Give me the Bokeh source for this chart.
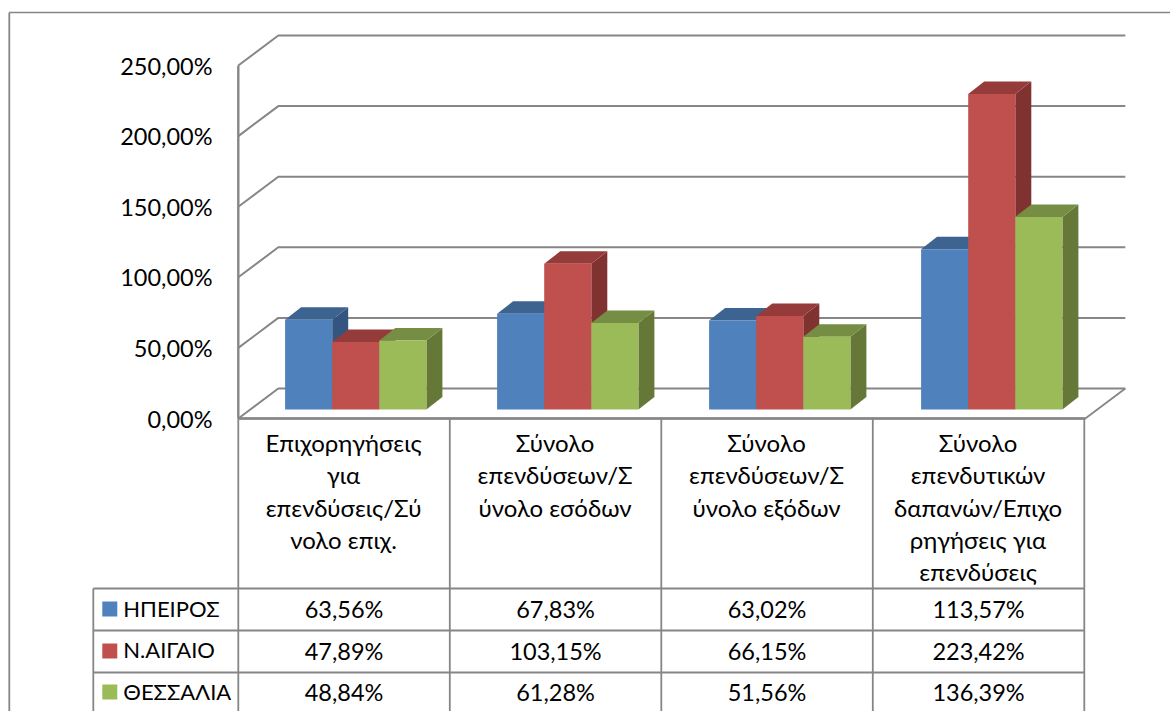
from bokeh.plotting import figure
from bokeh.models import Range1d
from bokeh.core.properties import value
from bokeh.embed import file_html
from bokeh.resources import INLINE

categories = [
    ["Επιχορηγήσεις", "για", "επενδύσεις/Σύ", "νολο επιχ."],
    ["Σύνολο", "επενδύσεων/Σ", "ύνολο εσόδων"],
    ["Σύνολο", "επενδύσεων/Σ", "ύνολο εξόδων"],
    ["Σύνολο", "επενδυτικών", "δαπανών/Επιχο", "ρηγήσεις για", "επενδύσεις"],
]
series_names = ["ΗΠΕΙΡΟΣ", "Ν.ΑΙΓΑΙΟ", "ΘΕΣΣΑΛΙΑ"]
ipeiros = [63.56, 67.83, 63.02, 113.57]
n_aigaio = [47.89, 103.15, 66.15, 223.42]
thessalia = [48.84, 61.28, 51.56, 136.39]
tick_values = [0, 50, 100, 150, 200, 250]

front = ["#4F81BD", "#C0504D", "#9BBB59"]
top = ["#3D6390", "#953B39", "#758E43"]
side = ["#34557F", "#7F3230", "#657837"]
GREY = "#868686"
FONT = value("Lato")
FS = "23.5px"
FS_CAT = "24px"
FS_LEG = "22px"

SCALE = 1.412          # screen px per percentage point
W, H = 1170, 711


def Y(py):
    """page pixel row -> value on the percentage scale"""
    return (418 - py) / SCALE


def pct(v):
    return f"{v:.2f}".replace(".", ",") + "%"


p = figure(width=W, height=H, output_backend="svg", toolbar_location=None,
           x_range=Range1d(0.7, W + 0.7), y_range=Range1d(Y(H), Y(0)),
           min_border=0, outline_line_color=None, background_fill_color="white")
p.axis.visible = False
p.grid.visible = False


def seg(xs, ys, w=2.0, c=GREY):
    p.line(xs, ys, line_color=c, line_width=w)


# chart frame
seg([9.5, 9.5], [Y(H), Y(12)], 1.8)
seg([9.5, W + 1], [Y(12), Y(12)], 1.4)

# walls and gridlines
DX, DY = 40, 30 / SCALE
for t in tick_values:
    seg([238.5, 238.5 + DX, 1125.5], [t, t + DY, t + DY], 2.0)
seg([238.5, 238.5], [0, 250], 2.4)
seg([238.5, 1085.5, 1125.5], [0, 0, DY], 1.8)

# bars
BASE = Y(409)
BW, BX0, STEP = 47.1, 285.3, 212
BDX, BDY = 16, 12.5 / SCALE
for j, vals in enumerate([ipeiros, n_aigaio, thessalia]):
    for i, v in enumerate(vals):
        x0 = BX0 + STEP * i + BW * j
        x1 = x0 + BW
        yt = BASE + v
        p.patch([x1, x1 + BDX, x1 + BDX, x1], [BASE, BASE + BDY, yt + BDY, yt],
                fill_color=side[j], line_color=None)
        p.patch([x0, x1, x1 + BDX, x0 + BDX], [yt, yt, yt + BDY, yt + BDY],
                fill_color=top[j], line_color=None)
        p.quad(left=x0, right=x1, bottom=BASE, top=yt, fill_color=front[j], line_color=None)

# axis labels
p.text([212.7] * len(tick_values), tick_values,
       text=[pct(t) for t in tick_values], text_align="right", text_baseline="middle",
       text_font=FONT, text_font_size=FS, text_color="#000000")

# data table
col_x = [238.5, 450, 661.5, 873, 1084.5]
row_y = [588, 630, 672]
seg([238.5, 1085.5], [Y(418), Y(418)], 2.4)
for x in col_x:
    seg([x, x], [Y(418), Y(H)], 1.8)
seg([93.5, 93.5], [Y(588), Y(H)], 1.8)
for ry in row_y:
    seg([93.5, 1084.5], [Y(ry), Y(ry)], 1.8)

for i, lines in enumerate(categories):
    cx = (col_x[i] + col_x[i + 1]) / 2 - 0.5
    for k, line in enumerate(lines):
        p.text([cx], [Y(442 + 32.3 * k)], text=[line], text_align="center", text_baseline="middle",
               text_font=FONT, text_font_size=FS_CAT, text_color="#000000")

key_y = [608.5, 650.5, 691.5]
row_text_y = [607.5, 649, 690.5]
for j, (name, vals) in enumerate(zip(series_names, [ipeiros, n_aigaio, thessalia])):
    ty = row_text_y[j]
    p.quad(left=102.5, right=117.5, bottom=Y(key_y[j] + 7.5), top=Y(key_y[j] - 7.5),
           fill_color=front[j], line_color=None)
    p.text([123.5], [Y(ty)], text=[name], text_align="left", text_baseline="middle",
           text_font=FONT, text_font_size=FS_LEG, text_color="#000000")
    for i, v in enumerate(vals):
        cx = (col_x[i] + col_x[i + 1]) / 2
        p.text([cx], [Y(ty + 1)], text=[pct(v)], text_align="center", text_baseline="middle",
               text_font=FONT, text_font_size=FS, text_color="#000000")

open("out.html", "w").write(file_html(p, INLINE))
